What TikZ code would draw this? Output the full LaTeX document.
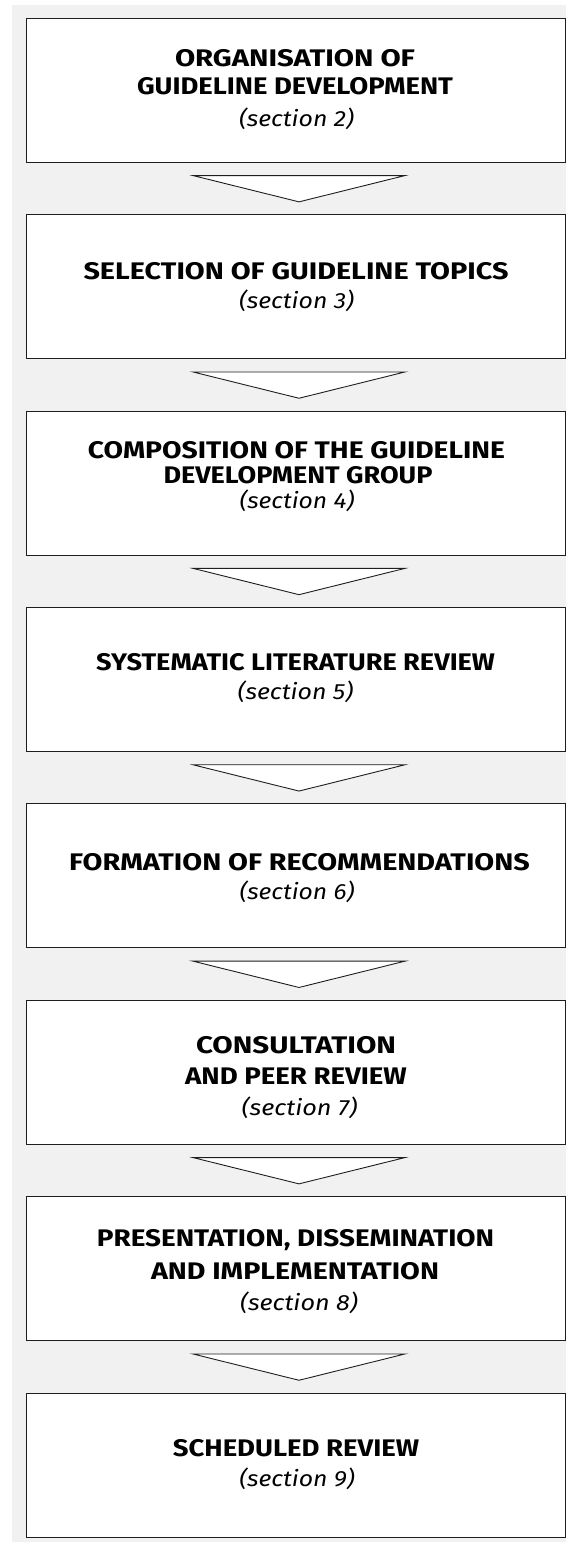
\documentclass[tikz,border=0pt]{standalone}
\usepackage{fontspec}
\usepackage{graphicx}
\setmainfont{Fira Sans}
\usetikzlibrary{calc}
\definecolor{bgcol}{RGB}{241,241,241}
\definecolor{linecol}{RGB}{30,30,30}
\newcommand\titlefnt{\fontsize{24}{24}\selectfont\bfseries}
\newcommand\secfnt{\fontsize{22}{24}\selectfont\itshape}
\newlength\natwd
\newcommand\tfit[2]{\settowidth{\natwd}{\titlefnt #2}\pgfmathsetmacro\fsc{#1/\natwd}\scalebox{\fsc}[1]{\titlefnt #2}}
\newcommand\sfit[2]{\settowidth{\natwd}{\secfnt #2}\pgfmathsetmacro\fsc{#1/\natwd}\scalebox{\fsc}[1]{\secfnt #2}}
\tikzset{
  stepbox/.style={draw=linecol, line width=1.1pt, fill=white, minimum width=538.5pt, minimum height=144pt, inner sep=0pt},
  titletext/.style={anchor=base, inner sep=0pt, font=\titlefnt},
  sectext/.style={anchor=base, inner sep=0pt, font=\secfnt},
  flowtri/.style={draw=linecol, line width=0.9pt, fill=white, line join=miter}
}
\begin{document}
\begin{tikzpicture}[x=1pt,y=-1pt]
\useasboundingbox (0,0) rectangle (566,1542);
\fill[bgcol] (12,5) rectangle (566,1542);
% boxes
\foreach \i in {1,...,8}{
  \pgfmathsetmacro{\cy}{90.3+196.4*(\i-1)}
  \node[stepbox] (b\i) at (295.8,\cy) {};
}
% arrows between boxes
\foreach \i in {1,...,7}{
  \draw[flowtri] ($(b\i.south)+(-102.8,12.7)$) -- ($(b\i.south)+(109.2,12.7)$) -- ($(b\i.south)+(3.2,39)$) -- cycle;
}
% texts
\node[titletext] (t1a) at (295,66.7) {\tfit{240}{ORGANISATION OF}};
\node[titletext] (t1b) at (295,94) {\tfit{316}{GUIDELINE DEVELOPMENT}};
\node[sectext] (s1) at (296.5,126) {\sfit{115}{(section 2)}};

\node[titletext] (t2a) at (296,279) {\tfit{425}{SELECTION OF GUIDELINE TOPICS}};
\node[sectext] (s2) at (296.5,308) {\sfit{115}{(section 3)}};

\node[titletext] (t3a) at (296.5,458.7) {\tfit{417}{COMPOSITION OF THE GUIDELINE}};
\node[titletext] (t3b) at (298,483.5) {\tfit{269}{DEVELOPMENT GROUP}};
\node[sectext] (s3) at (297,508.5) {\sfit{115}{(section 4)}};

\node[titletext] (t4a) at (295.5,670.7) {\tfit{399}{SYSTEMATIC LITERATURE REVIEW}};
\node[sectext] (s4) at (295.5,699.5) {\sfit{115.6}{(section 5)}};

\node[titletext] (t5a) at (299.5,870) {\tfit{460.7}{FORMATION OF RECOMMENDATIONS}};
\node[sectext] (s5) at (297,899) {\sfit{115}{(section 6)}};

\node[titletext] (t6a) at (296,1053.3) {\tfit{200}{CONSULTATION}};
\node[titletext] (t6b) at (296,1084) {\tfit{221.7}{AND PEER REVIEW}};
\node[sectext] (s6) at (299.5,1115) {\sfit{115.7}{(section 7)}};

\node[titletext] (t7a) at (295.5,1246.7) {\tfit{397.3}{PRESENTATION, DISSEMINATION}};
\node[titletext] (t7b) at (295,1279) {\tfit{288}{AND IMPLEMENTATION}};
\node[sectext] (s7) at (299,1310) {\sfit{118}{(section 8)}};

\node[titletext] (t8a) at (296,1456.7) {\tfit{246.3}{SCHEDULED REVIEW}};
\node[sectext] (s8) at (297,1486.5) {\sfit{115.5}{(section 9)}};
\end{tikzpicture}
\end{document}
